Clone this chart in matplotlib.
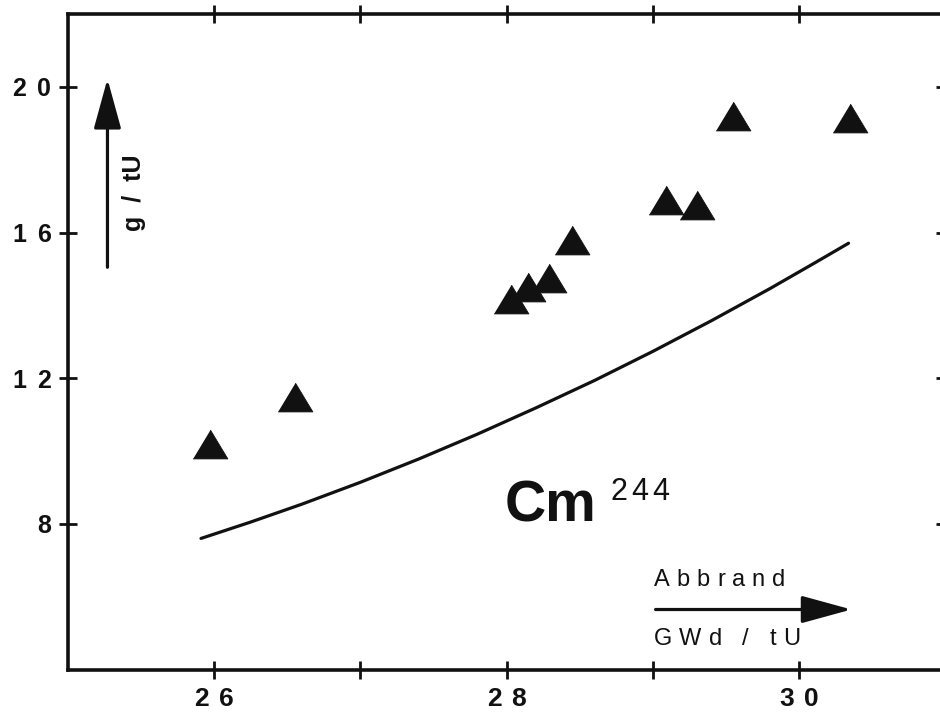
import numpy as np
import matplotlib; matplotlib.use("Agg")
import matplotlib.pyplot as plt
from matplotlib.offsetbox import TextArea, DrawingArea, HPacker, AnnotationBbox

plt.rcParams["font.family"] = ["Liberation Sans", "DejaVu Sans"]

INK = "#111111"

# ── data ──────────────────────────────────────────────────────────────────────
burnup_meas = [25.97, 26.55, 28.03, 28.15, 28.29, 28.45, 29.09, 29.30, 29.55, 30.35]
cm244_meas  = [10.21, 11.50, 14.18, 14.51, 14.76, 15.81, 16.91, 16.77, 19.20, 19.14]

burnup_calc = [25.91, 26.25, 26.60, 27.00, 27.40, 27.80, 28.20,
               28.60, 29.00, 29.40, 29.80, 30.10, 30.34]
cm244_calc  = [7.61, 8.06, 8.55, 9.15, 9.79, 10.47, 11.19,
               11.94, 12.74, 13.58, 14.46, 15.15, 15.71]

XTICKS = [26, 28, 30]
XTICKS_ALL = [26, 27, 28, 29, 30]
YTICKS = [8, 12, 16, 20]


def tracked(ax, s, xy, coords, size, sep, align, xybox=(0, 0), weight="normal"):
    """text with extra letter spacing (the scan is letter-spaced)"""
    kids = []
    for c in s:
        if c == " ":
            kids.append(DrawingArea(0.28 * size, 0))
        else:
            kids.append(TextArea(c, textprops=dict(fontsize=size, color=INK,
                                                   fontweight=weight)))
    box = HPacker(children=kids, align="baseline", pad=0, sep=sep)
    ab = AnnotationBbox(box, xy, xycoords=coords, xybox=xybox,
                        boxcoords="offset points", box_alignment=align,
                        frameon=False, pad=0, annotation_clip=False)
    ax.add_artist(ab)


fig = plt.figure(figsize=(9.4, 7.15), dpi=100, facecolor="white")
ax = fig.add_axes([68 / 940, 45 / 715, 877 / 940, 656 / 715])
ax.set_xlim(25, 31)
ax.set_ylim(4, 22)

for sp in ax.spines.values():
    sp.set_linewidth(2.6)
    sp.set_color(INK)

ax.set_xticks(XTICKS_ALL)
ax.set_yticks(YTICKS)
ax.set_xticklabels([])
ax.set_yticklabels([])
ax.tick_params(axis="both", direction="inout", length=13, width=2.0, color=INK,
               top=True, right=True)

# tick labels, letter-spaced like the original
for t in XTICKS:
    tracked(ax, str(t), (t, 0), ax.get_xaxis_transform(), 19, 7,
            (0.5, 1), xybox=(0, -12), weight="bold")
for t in YTICKS:
    tracked(ax, str(t), (0, t), ax.get_yaxis_transform(), 18, 8,
            (1, 0.5), xybox=(-12, -1.5), weight="bold")

# calculated curve
ax.plot(burnup_calc, cm244_calc, color=INK, lw=2.3, solid_capstyle="round", zorder=2)

# measured points
tri = [(-1, -0.83), (1, -0.83), (0, 0.83)]
ax.plot(burnup_meas, cm244_meas, linestyle="none", marker=tri, ms=25,
        color=INK, mec=INK, mew=0.6, zorder=3)

# Cm244 label
ax.text(27.99, 8.08, "Cm", fontsize=41, fontweight="bold", color=INK,
        ha="left", va="baseline")
tracked(ax, "244", (28.71, 8.72), "data", 22, 3, (0, 0.3))

# axis arrows
arrow = dict(arrowstyle="-|>,head_length=3.1,head_width=0.85", color=INK,
             lw=2.3, shrinkA=0, shrinkB=0, mutation_scale=10)
ax.annotate("", xy=(25.27, 20.22), xytext=(25.27, 15.05), arrowprops=arrow)
ax.annotate("", xy=(30.36, 5.66), xytext=(29.02, 5.66), arrowprops=arrow)

ax.text(25.45, 17.09, "g  /  tU", rotation=90, fontsize=18, color=INK,
        ha="center", va="center", fontweight="bold")

tracked(ax, "Abbrand", (29.01, 6.46), "data", 17, 5, (0, 0.5))
tracked(ax, "GWd / tU", (29.01, 4.86), "data", 17, 5, (0, 0.5))

fig.savefig("out.png", dpi=100, facecolor="white")
